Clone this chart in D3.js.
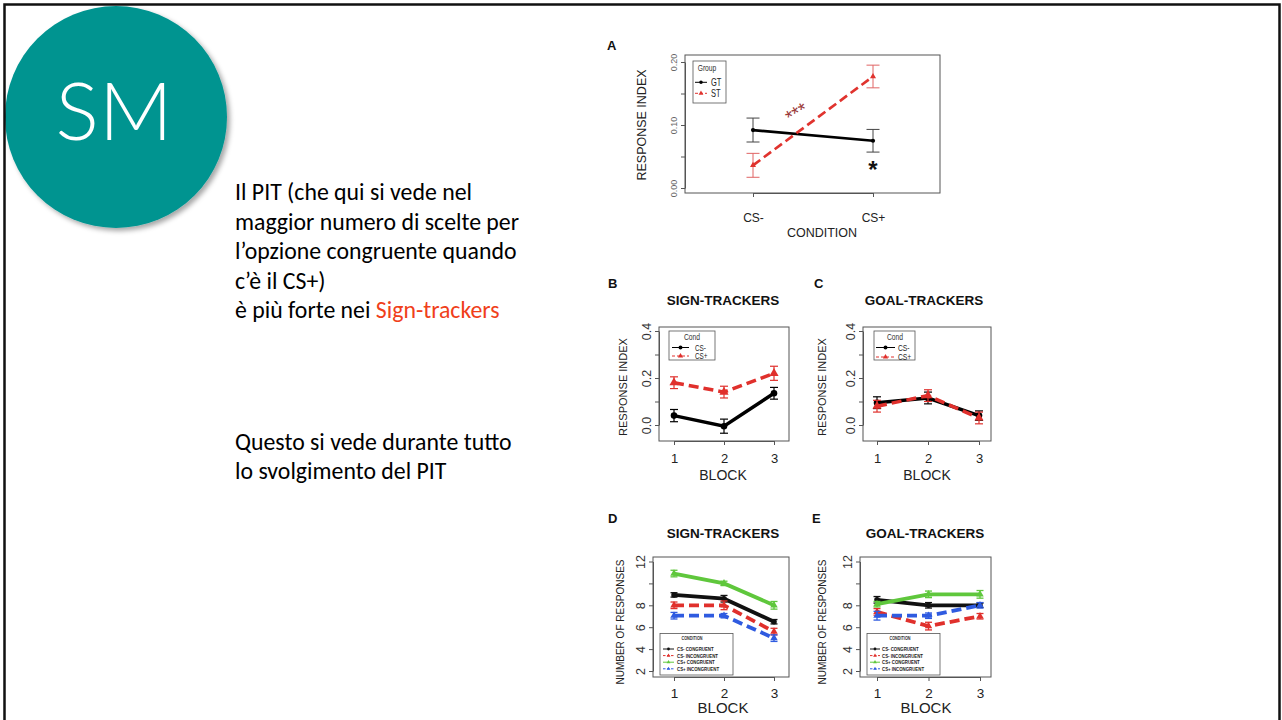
<!DOCTYPE html>
<html>
<head>
<meta charset="utf-8">
<script src="https://cdn.jsdelivr.net/npm/d3@7"></script>
<style>
  body { margin: 0; background: #fff; }
</style>
</head>
<body>
<div id="chart"></div>
<script>
"use strict";

// === Data ===
const blocks = [1, 2, 3];
const conditionsA = ["CS-", "CS+"];
const conditionIdx = [1, 2];

// Panel A: response index by condition
const gtMeanA = [0.092, 0.075];
const gtErrA = [0.019, 0.018];
const stMeanA = [0.036, 0.177];
const stErrA = [0.019, 0.018];

// Panel B: sign-trackers, response index by block
const stMinusB = [0.04, -0.005, 0.135];
const stMinusErrB = [0.026, 0.03, 0.025];
const stPlusB = [0.18, 0.14, 0.22];
const stPlusErrB = [0.025, 0.025, 0.03];

// Panel C: goal-trackers, response index by block
const gtMinusC = [0.095, 0.115, 0.04];
const gtMinusErrC = [0.025, 0.025, 0.02];
const gtPlusC = [0.08, 0.125, 0.03];
const gtPlusErrC = [0.025, 0.025, 0.025];

// Panel D: sign-trackers, number of responses
const stMinusCongD = [8.95, 8.6, 6.5];
const stMinusCongErrD = [0.2, 0.3, 0.2];
const stMinusIncD = [8.0, 8.0, 5.6];
const stMinusIncErrD = [0.3, 0.4, 0.3];
const stPlusCongD = [10.9, 10.0, 8.0];
const stPlusCongErrD = [0.3, 0.2, 0.35];
const stPlusIncD = [7.05, 7.05, 5.0];
const stPlusIncErrD = [0.3, 0.2, 0.3];

// Panel E: goal-trackers, number of responses
const gtMinusCongE = [8.5, 8.0, 8.0];
const gtMinusCongErrE = [0.3, 0.25, 0.2];
const gtMinusIncE = [7.4, 6.1, 7.0];
const gtMinusIncErrE = [0.3, 0.35, 0.25];
const gtPlusCongE = [8.1, 9.0, 9.0];
const gtPlusCongErrE = [0.25, 0.3, 0.35];
const gtPlusIncE = [7.05, 7.05, 8.0];
const gtPlusIncErrE = [0.4, 0.25, 0.25];

const ticksIndex = [0, 0.05, 0.1, 0.15, 0.2];
const labelsIndex = [0, 0.1, 0.2];
const ticksBC = [0, 0.1, 0.2, 0.3, 0.4];
const labelsBC = [0, 0.2, 0.4];
const ticksDE = [2, 4, 6, 8, 10, 12];
const labelsDE = [2, 4, 6, 8, 12];
const condLabels4 = ["CS- CONGRUENT", "CS- INCONGRUENT", "CS+ CONGRUENT", "CS+ INCONGRUENT"];

// === SVG setup ===
const W = 1282, H = 720;
const FONT = "'Liberation Sans', Arial, sans-serif";
const SLIDE_FONT = "Carlito, Calibri, 'Open Sans', sans-serif";

const svg = d3.select("#chart")
  .append("svg")
  .attr("width", W)
  .attr("height", H)
  .style("display", "block");

const defs = svg.append("defs");
const shadow = defs.append("filter").attr("id", "shadow")
  .attr("x", "-20%").attr("y", "-20%").attr("width", "150%").attr("height", "150%");
shadow.append("feDropShadow")
  .attr("dx", 3).attr("dy", 3).attr("stdDeviation", 2.5)
  .attr("flood-color", "#000").attr("flood-opacity", 0.35);

// === Left side of the slide ===
svg.append("circle")
  .attr("cx", 116).attr("cy", 117).attr("r", 111)
  .attr("fill", "#009490")
  .attr("filter", "url(#shadow)");

svg.append("text")
  .attr("x", 114).attr("y", 140)
  .attr("text-anchor", "middle")
  .attr("font-family", "Lato, sans-serif")
  .attr("font-weight", 300)
  .attr("font-size", 81)
  .attr("fill", "#fff")
  .text("SM");

const textLines = [
  "Il PIT (che qui si vede nel",
  "maggior numero di scelte per",
  "l’opzione congruente quando",
  "c’è il CS+)"
];
const textLines2 = ["Questo si vede durante tutto", "lo svolgimento del PIT"];

const slideText = svg.append("g")
  .attr("font-family", SLIDE_FONT)
  .attr("font-size", 23.8)
  .attr("fill", "#000");

textLines.forEach((t, i) => {
  slideText.append("text").attr("x", 235).attr("y", 200 + i * 29.5).text(t);
});
const redLine = slideText.append("text").attr("x", 235).attr("y", 200 + 4 * 29.5);
redLine.append("tspan").text("è più forte nei ");
redLine.append("tspan").attr("fill", "#f0401a").text("Sign-trackers");

textLines2.forEach((t, i) => {
  slideText.append("text").attr("x", 235).attr("y", 450 + i * 29).text(t);
});

// === Helpers ===
function narrowText(g, x, y, str, fs, opts) {
  opts = opts || {};
  return g.append("text")
    .attr("transform", `translate(${x},${y}) scale(${opts.sx || 0.75},1)`)
    .attr("text-anchor", opts.anchor || "start")
    .attr("font-family", FONT)
    .attr("font-size", fs)
    .attr("font-weight", opts.bold ? "bold" : null)
    .attr("fill", opts.color || "#111")
    .text(str);
}

function drawSeries(g, x, y, s, cap) {
  const pts = s.mean.map((m, i) => ({ x: s.xs[i], m: m, e: s.err[i] }));

  g.append("path")
    .datum(pts)
    .attr("d", d3.line().x(d => x(d.x)).y(d => y(d.m)))
    .attr("fill", "none")
    .attr("stroke", s.color)
    .attr("stroke-width", s.width)
    .attr("stroke-dasharray", s.dash || null);

  const eb = g.selectAll(null).data(pts).enter().append("g")
    .attr("stroke", s.errColor || s.color)
    .attr("stroke-width", s.errWidth || 1.2);
  eb.append("line")
    .attr("x1", d => x(d.x)).attr("x2", d => x(d.x))
    .attr("y1", d => y(d.m - d.e)).attr("y2", d => y(d.m + d.e));
  eb.append("line")
    .attr("x1", d => x(d.x) - cap).attr("x2", d => x(d.x) + cap)
    .attr("y1", d => y(d.m + d.e)).attr("y2", d => y(d.m + d.e));
  eb.append("line")
    .attr("x1", d => x(d.x) - cap).attr("x2", d => x(d.x) + cap)
    .attr("y1", d => y(d.m - d.e)).attr("y2", d => y(d.m - d.e));

  g.selectAll(null).data(pts).enter().append("path")
    .attr("transform", d => `translate(${x(d.x)},${y(d.m)})`)
    .attr("d", d3.symbol().type(s.symbol).size(s.size))
    .attr("fill", s.color);
}

function drawLegend(g, lg, series) {
  g.append("rect")
    .attr("x", lg.x).attr("y", lg.y)
    .attr("width", lg.w).attr("height", lg.h)
    .attr("fill", "#fff").attr("stroke", "#555").attr("stroke-width", 0.8);

  narrowText(g, lg.titleX, lg.titleY, lg.title, lg.titleFs,
    { anchor: "middle", bold: lg.bold, color: "#333" });

  series.forEach((s, i) => {
    const yy = lg.row0 + i * lg.dy;
    g.append("line")
      .attr("x1", lg.lineX0).attr("x2", lg.lineX1)
      .attr("y1", yy).attr("y2", yy)
      .attr("stroke", s.color)
      .attr("stroke-width", lg.lw)
      .attr("stroke-dasharray", s.dash ? lg.dash : null);
    g.append("path")
      .attr("transform", `translate(${(lg.lineX0 + lg.lineX1) / 2},${yy})`)
      .attr("d", d3.symbol().type(s.symbol).size(lg.symSize))
      .attr("fill", s.color);
    narrowText(g, lg.textX, yy + lg.fs * 0.36, s.label, lg.fs,
      { bold: lg.bold, color: "#222" });
  });
}

function drawPanel(p) {
  const g = svg.append("g");
  const x = d3.scaleLinear().domain(p.xDomain).range(p.xRange);
  const y = d3.scaleLinear().domain(p.yDomain).range(p.yRange);

  // box
  g.append("rect")
    .attr("x", p.box.l).attr("y", p.box.t)
    .attr("width", p.box.r - p.box.l).attr("height", p.box.b - p.box.t)
    .attr("fill", "none").attr("stroke", "#555").attr("stroke-width", 1);

  // y axis (R style, rotated labels)
  const ya = g.append("g")
    .attr("transform", `translate(${p.box.l},0)`)
    .call(d3.axisLeft(y).tickValues(p.yTicks).tickSize(p.tick).tickSizeOuter(0)
      .tickFormat(d => p.yLabels.includes(d) ? p.yFmt(d) : ""));
  ya.attr("font-family", FONT).attr("font-size", p.yFs).attr("color", p.axisColor);
  ya.select(".domain").attr("stroke", "#555");
  ya.selectAll(".tick line").attr("stroke", "#555");
  ya.selectAll("text")
    .attr("x", 0).attr("dy", 0)
    .attr("transform", `translate(${-p.tick - p.yLabGap},0) rotate(-90)`)
    .attr("text-anchor", "middle");

  // x axis
  const xa = g.append("g")
    .attr("transform", `translate(0,${p.box.b})`)
    .call(d3.axisBottom(x).tickValues(p.xTicks).tickSize(p.tick).tickSizeOuter(0)
      .tickFormat(p.xFmt));
  xa.attr("font-family", FONT).attr("font-size", p.xFs).attr("color", "#222");
  xa.select(".domain").attr("stroke", "#555");
  xa.selectAll(".tick line").attr("stroke", "#555");
  xa.selectAll("text").attr("y", p.xLabBase - p.box.b).attr("dy", 0);

  // axis titles
  g.append("text")
    .attr("x", p.xTitleX).attr("y", p.xTitleBase)
    .attr("text-anchor", "middle")
    .attr("font-family", FONT).attr("font-size", p.xTitleFs).attr("fill", "#222")
    .text(p.xTitle);

  g.append("text")
    .attr("transform", `translate(${p.yTitleX},${p.yTitleY}) rotate(-90)`)
    .attr("text-anchor", "middle")
    .attr("font-family", FONT).attr("font-size", p.yTitleFs).attr("fill", "#222")
    .text(p.yTitle);

  // panel letter and title
  g.append("text")
    .attr("x", p.letterX).attr("y", p.letterY)
    .attr("font-family", FONT).attr("font-size", 13).attr("font-weight", "bold")
    .attr("fill", "#111")
    .text(p.letter);

  if (p.title) {
    g.append("text")
      .attr("x", p.titleX).attr("y", p.titleY)
      .attr("text-anchor", "middle")
      .attr("font-family", FONT).attr("font-size", 13.5).attr("font-weight", "bold")
      .attr("fill", "#111")
      .text(p.title);
  }

  p.series.forEach(s => drawSeries(g, x, y, s, p.cap));
  drawLegend(g, p.legend, p.series);

  return { g: g, x: x, y: y };
}

// === Series styles ===
const RED = "#e0302c";
const GREEN = "#5fc73c";
const BLUE = "#2f5be0";

function bcSeries(minus, minusErr, plus, plusErr) {
  return [
    { label: "CS-", xs: blocks, mean: minus, err: minusErr, color: "#000",
      width: 3.5, symbol: d3.symbolCircle, size: 34 },
    { label: "CS+", xs: blocks, mean: plus, err: plusErr, color: RED,
      width: 3.5, dash: "10,5", symbol: d3.symbolTriangle, size: 36 }
  ];
}

function deSeries(mc, mce, mi, mie, pc, pce, pi, pie) {
  const sets = [[mc, mce, "#111", null], [mi, mie, RED, "10,5"],
    [pc, pce, GREEN, null], [pi, pie, BLUE, "10,5"]];
  return sets.map((d, i) => ({
    label: condLabels4[i], xs: blocks, mean: d[0], err: d[1], color: d[2],
    width: 3.8, dash: d[3], symbol: i === 0 ? d3.symbolCircle : d3.symbolTriangle,
    size: 24, errWidth: 1.3
  }));
}

// === Panel A ===
const panelA = drawPanel({
  box: { l: 685, r: 940, t: 55, b: 193 },
  xDomain: [1, 2], xRange: [753, 873], xTicks: conditionIdx,
  xFmt: i => conditionsA[i - 1],
  yDomain: [0, 0.2], yRange: [188, 62], yTicks: ticksIndex, yLabels: labelsIndex,
  yFmt: d => d.toFixed(2), yFs: 9, axisColor: "#666", yLabGap: 4,
  tick: 4, cap: 6.5,
  xFs: 12, xLabBase: 222,
  xTitle: "CONDITION", xTitleX: 822, xTitleBase: 237, xTitleFs: 12.5,
  yTitle: "RESPONSE INDEX", yTitleX: 646, yTitleY: 125, yTitleFs: 12.5,
  letter: "A", letterX: 607, letterY: 50,
  series: [
    { label: "GT", xs: conditionIdx, mean: gtMeanA, err: gtErrA, color: "#000",
      errColor: "#444", width: 2.7, symbol: d3.symbolCircle, size: 14, errWidth: 1 },
    { label: "ST", xs: conditionIdx, mean: stMeanA, err: stErrA, color: "#e0332e",
      errColor: "#e06464", width: 2.7, dash: "9,4.5", symbol: d3.symbolTriangle, size: 16, errWidth: 1 }
  ],
  legend: { x: 693, y: 61, w: 33, h: 42, title: "Group", titleX: 707, titleY: 71, titleFs: 9,
    row0: 82.3, dy: 11, lineX0: 695, lineX1: 707, textX: 711, fs: 10, lw: 1, dash: "3,2",
    symSize: 10 }
});

// significance marks
svg.append("text")
  .attr("transform", `translate(${panelA.x(1.39)},${panelA.y(0.11)}) rotate(-30)`)
  .attr("text-anchor", "middle")
  .attr("font-family", FONT).attr("font-size", 19).attr("fill", "#9b3a3a")
  .text("***");
svg.append("text")
  .attr("x", panelA.x(2)).attr("y", panelA.y(0.016))
  .attr("text-anchor", "middle")
  .attr("font-family", FONT).attr("font-size", 24).attr("font-weight", "bold").attr("fill", "#111")
  .text("*");

// === Panels B and C ===
const commonBC = {
  xDomain: [1, 3], xTicks: blocks, xFmt: d => d,
  yDomain: [0, 0.4], yRange: [425, 331], yTicks: ticksBC, yLabels: labelsBC,
  yFmt: d => d.toFixed(1), yFs: 12.5, axisColor: "#333", yLabGap: 4,
  tick: 4, cap: 4,
  xFs: 13, xLabBase: 463,
  xTitle: "BLOCK", xTitleBase: 479.5, xTitleFs: 14,
  yTitle: "RESPONSE INDEX", yTitleY: 387, yTitleFs: 11,
  letterY: 288, titleY: 305
};

drawPanel(Object.assign({}, commonBC, {
  box: { l: 659, r: 789, t: 327, b: 441 },
  xRange: [674, 774], xTitleX: 723, yTitleX: 627,
  letter: "B", letterX: 608, title: "SIGN-TRACKERS", titleX: 723,
  series: bcSeries(stMinusB, stMinusErrB, stPlusB, stPlusErrB),
  legend: { x: 669, y: 331, w: 46, h: 29, title: "Cond", titleX: 692, titleY: 339.5, titleFs: 9,
    row0: 347.5, dy: 8.5, lineX0: 672, lineX1: 689, textX: 695, fs: 8.5, lw: 1, dash: "3,2",
    symSize: 12 }
}));

drawPanel(Object.assign({}, commonBC, {
  box: { l: 863, r: 991, t: 327, b: 441 },
  xRange: [877, 979], xTitleX: 927, yTitleX: 826,
  letter: "C", letterX: 814, title: "GOAL-TRACKERS", titleX: 924,
  series: bcSeries(gtMinusC, gtMinusErrC, gtPlusC, gtPlusErrC),
  legend: { x: 874, y: 331, w: 41, h: 29, title: "Cond", titleX: 895, titleY: 339.5, titleFs: 9,
    row0: 347.5, dy: 9.5, lineX0: 876, lineX1: 895, textX: 898, fs: 9, lw: 1, dash: "3,2",
    symSize: 12 }
}));

// === Panels D and E ===
const commonDE = {
  xDomain: [1, 3], xTicks: blocks, xFmt: d => d,
  yDomain: [2, 12], yRange: [671, 561.5], yTicks: ticksDE, yLabels: labelsDE,
  yFmt: d => d, yFs: 12.5, axisColor: "#333", yLabGap: 4,
  tick: 4, cap: 3.5,
  xFs: 13.5, xLabBase: 698,
  xTitle: "BLOCK", xTitleBase: 713, xTitleFs: 15,
  yTitle: "NUMBER OF RESPONSES", yTitleY: 622, yTitleFs: 10,
  letterY: 523, titleY: 538
};

const legendDE = { y: 633.5, w: 73, h: 41.5, title: "CONDITION", titleY: 640, titleFs: 5,
  row0: 649, dy: 6.6, textX: 0, fs: 5.8, lw: 1, dash: "2.5,1.5", symSize: 6, bold: true };

drawPanel(Object.assign({}, commonDE, {
  box: { l: 653, r: 789, t: 557, b: 677 },
  xRange: [674, 774], xTitleX: 723, yTitleX: 623.5,
  letter: "D", letterX: 608, title: "SIGN-TRACKERS", titleX: 723,
  series: deSeries(stMinusCongD, stMinusCongErrD, stMinusIncD, stMinusIncErrD,
    stPlusCongD, stPlusCongErrD, stPlusIncD, stPlusIncErrD),
  legend: Object.assign({}, legendDE, { x: 660, titleX: 692, lineX0: 663, lineX1: 674, textX: 677 })
}));

drawPanel(Object.assign({}, commonDE, {
  box: { l: 860, r: 991, t: 557, b: 677 },
  xRange: [877, 980], xTitleX: 926, yTitleX: 825.5,
  letter: "E", letterX: 812, title: "GOAL-TRACKERS", titleX: 925,
  series: deSeries(gtMinusCongE, gtMinusCongErrE, gtMinusIncE, gtMinusIncErrE,
    gtPlusCongE, gtPlusCongErrE, gtPlusIncE, gtPlusIncErrE),
  legend: Object.assign({}, legendDE, { x: 867, titleX: 900, lineX0: 870, lineX1: 880, textX: 882 })
}));

// === Slide frame ===
svg.append("rect")
  .attr("x", 4.5).attr("y", 4.5)
  .attr("width", 1275).attr("height", 730)
  .attr("fill", "none")
  .attr("stroke", "#111")
  .attr("stroke-width", 2.5);
</script>
</body>
</html>
